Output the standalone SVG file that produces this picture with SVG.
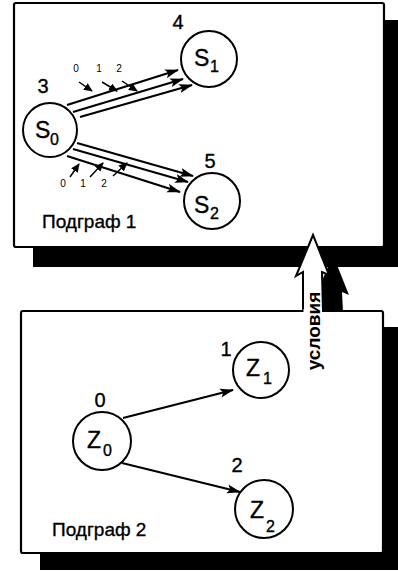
<svg xmlns="http://www.w3.org/2000/svg" width="398" height="571" viewBox="0 0 398 571">
<style>
text{font-family:"Liberation Sans",Arial,sans-serif;fill:#000;stroke:#000;stroke-width:0.35}
.box{fill:#fff;stroke:#000;stroke-width:2.2}
.shadow{fill:#000}
.node{fill:#fff;stroke:#000;stroke-width:2}
.lbl{font-size:23px}
.sub{font-size:16px}
.num{font-size:20px}
.tiny{font-size:10px;stroke-width:0}
.title{font-size:19px}
.edge{stroke:#000;stroke-width:2.2;fill:none;marker-end:url(#ah)}
.small{stroke:#000;stroke-width:1.5;fill:none;marker-end:url(#ahs)}
</style>
<defs>
<marker id="ah" markerUnits="userSpaceOnUse" markerWidth="14" markerHeight="10" refX="13" refY="5" orient="auto">
<path d="M0,0.5 L14,5 L0,9.5 L3,5 Z" fill="#000"/>
</marker>
<marker id="ahs" markerUnits="userSpaceOnUse" markerWidth="9" markerHeight="8" refX="8" refY="4" orient="auto">
<path d="M0,0 L9,4 L0,8 Z" fill="#000"/>
</marker>
</defs>

<g id="subgraph1-frame">
<rect class="shadow" x="33" y="20" width="375" height="247"/>
<rect class="box" x="14" y="3" width="370" height="244" rx="2"/>
<text class="title" x="42" y="228">Подграф 1</text>
</g>

<g id="subgraph2-frame">
<rect class="shadow" x="40" y="327" width="368" height="243"/>
<rect class="box" x="21" y="311" width="362" height="242" rx="2"/>
<text class="title" x="52" y="536">Подграф 2</text>
</g>

<g id="conditions-arrow">
<path class="shadow" d="M333,255 L349,295 L342,292 L343,312 L323,312 L323,292 L316,295 Z"/>
<path d="M303,312 L303,272 L296,276 L313,235 L329,275 L322,272 L323,312" fill="#fff" stroke="#000" stroke-width="2" stroke-linejoin="miter"/>
<rect x="303.5" y="309" width="18.5" height="4" fill="#fff"/>
<text transform="translate(320,331) rotate(-90)" text-anchor="middle" font-size="19" font-weight="bold" style="stroke-width:0">условия</text>
</g>

<g id="connectors">
<line class="edge" x1="67" y1="105" x2="178" y2="70"/>
<line class="edge" x1="73" y1="112" x2="183" y2="79"/>
<line class="edge" x1="80" y1="117" x2="192" y2="85"/>
<line class="edge" x1="77" y1="143" x2="193" y2="176"/>
<line class="edge" x1="73" y1="149" x2="188" y2="182"/>
<line class="edge" x1="67" y1="156" x2="180" y2="192"/>
<line class="small" x1="79" y1="82" x2="92" y2="91"/>
<line class="small" x1="102" y1="82" x2="117" y2="91"/>
<line class="small" x1="122" y1="81" x2="137" y2="91"/>
<line class="small" x1="70" y1="177" x2="79" y2="164"/>
<line class="small" x1="90" y1="177" x2="103" y2="163"/>
<line class="small" x1="113" y1="176" x2="127" y2="163"/>
<line class="edge" x1="123" y1="418" x2="233" y2="390"/>
<line class="edge" x1="122" y1="463" x2="240" y2="492"/>
</g>

<g id="edge-labels">
<text class="tiny" x="76" y="72" text-anchor="middle">0</text>
<text class="tiny" x="99" y="72" text-anchor="middle">1</text>
<text class="tiny" x="119" y="72" text-anchor="middle">2</text>
<text class="tiny" x="63" y="187" text-anchor="middle">0</text>
<text class="tiny" x="83" y="187" text-anchor="middle">1</text>
<text class="tiny" x="104" y="187" text-anchor="middle">2</text>
</g>

<g id="S0">
<circle class="node" cx="50" cy="130" r="27"/>
<text class="lbl" x="35" y="138">S</text><text class="sub" x="50" y="145">0</text>
<text class="num" x="43" y="93" text-anchor="middle">3</text>
</g>
<g id="S1">
<circle class="node" cx="209" cy="59" r="28"/>
<text class="lbl" x="194" y="66">S</text><text class="sub" x="210" y="72">1</text>
<text class="num" x="178" y="29" text-anchor="middle">4</text>
</g>
<g id="S2">
<circle class="node" cx="212" cy="201" r="28"/>
<text class="lbl" x="194" y="213">S</text><text class="sub" x="210" y="219">2</text>
<text class="num" x="210" y="168" text-anchor="middle">5</text>
</g>

<g id="Z0">
<circle class="node" cx="102" cy="441" r="29"/>
<text class="lbl" x="87" y="448">Z</text><text class="sub" x="103" y="456">0</text>
<text class="num" x="100" y="407" text-anchor="middle">0</text>
</g>
<g id="Z1">
<circle class="node" cx="261" cy="370" r="28"/>
<text class="lbl" x="246" y="376">Z</text><text class="sub" x="263" y="384">1</text>
<text class="num" x="226" y="356" text-anchor="middle">1</text>
</g>
<g id="Z2">
<circle class="node" cx="264" cy="509" r="29"/>
<text class="lbl" x="250" y="518">Z</text><text class="sub" x="266" y="532">2</text>
<text class="num" x="237" y="472" text-anchor="middle">2</text>
</g>
</svg>
